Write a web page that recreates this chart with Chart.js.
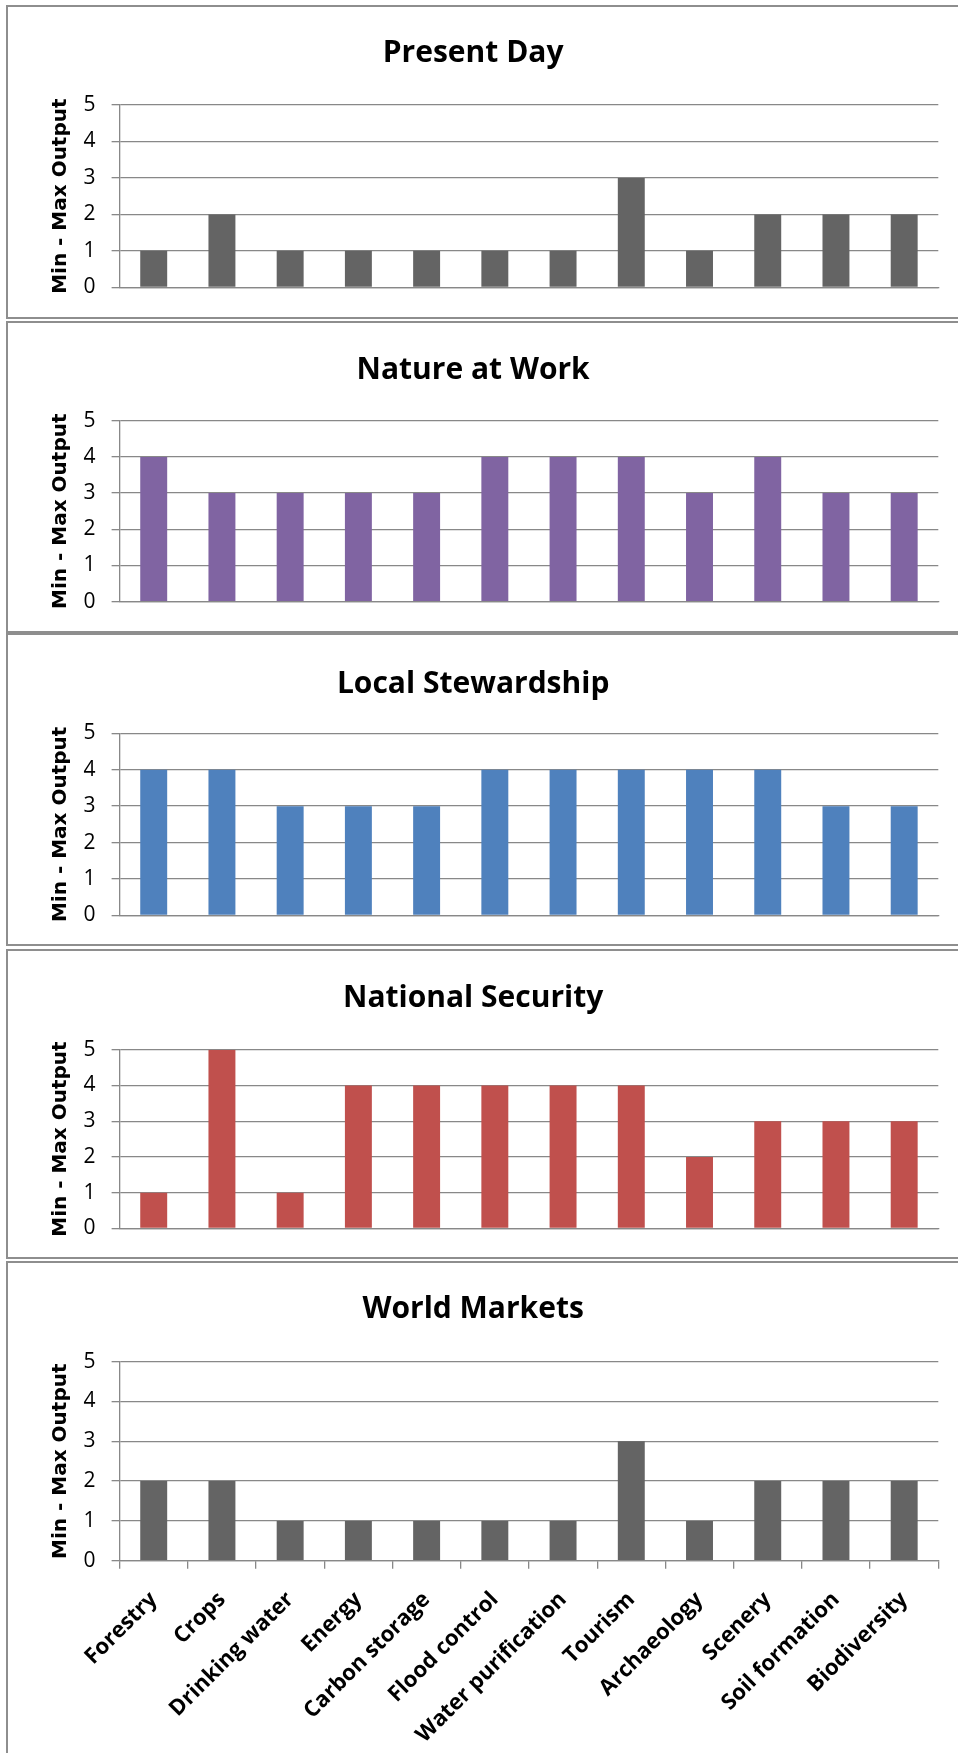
<!DOCTYPE html>
<html>
<head>
<meta charset="utf-8">
<title>Min - Max Output by scenario</title>
<script src="https://cdn.jsdelivr.net/npm/chart.js@4.4.1/dist/chart.umd.min.js"></script>
<style>
  html, body { margin: 0; padding: 0; background: #fff; }
  body { width: 958px; height: 1753px; overflow: hidden; position: relative; }
  .panel { position: absolute; left: 6px; width: 990px; border: 2px solid #8e8e8e; box-sizing: border-box; background: #fff; overflow: hidden; }
  .panel canvas { position: absolute; left: 0; top: 0; }
</style>
</head>
<body>
<div class="panel" style="top:5px;height:314px"><canvas id="presentDayChart"></canvas></div>
<div class="panel" style="top:321px;height:312px"><canvas id="natureChart"></canvas></div>
<div class="panel" style="top:633px;height:313px"><canvas id="localChart"></canvas></div>
<div class="panel" style="top:949px;height:310px"><canvas id="securityChart"></canvas></div>
<div class="panel" style="top:1261px;height:520px"><canvas id="marketsChart"></canvas></div>

<script>
// ecosystem services on the x axis
const services = ['Forestry', 'Crops', 'Drinking water', 'Energy', 'Carbon storage', 'Flood control',
  'Water purification', 'Tourism', 'Archaeology', 'Scenery', 'Soil formation', 'Biodiversity'];

// output score per service, one list per scenario
const presentDay = [1, 2, 1, 1, 1, 1, 1, 3, 1, 2, 2, 2];
const natureAtWork = [4, 3, 3, 3, 3, 4, 4, 4, 3, 4, 3, 3];
const localStewardship = [4, 4, 3, 3, 3, 4, 4, 4, 4, 4, 3, 3];
const nationalSecurity = [1, 5, 1, 4, 4, 4, 4, 4, 2, 3, 3, 3];
const worldMarkets = [2, 2, 1, 1, 1, 1, 1, 3, 1, 2, 2, 2];

const yTicks = [0, 1, 2, 3, 4, 5];
const yTitle = 'Min - Max Output';

const GRID = '#888888';
const CANVAS_W = 960;      // a bit wider than the page, the panel clips it
const PLOT_LEFT = 111.6;   // right edge of the y axis box
const PLOT_RIGHT = 930.3;

const TITLE_FONT = { family: '"Open Sans", sans-serif', size: 30, weight: 'bold', lineHeight: 1.2 };
const TICK_FONT = { family: '"Open Sans", sans-serif', size: 21, lineHeight: 1.2 };
const AXIS_TITLE_FONT = { family: '"DejaVu Sans", sans-serif', size: 20, weight: 'bold', lineHeight: 1.2 };
const LABEL_FONT = { family: '"Open Sans", sans-serif', size: 22, weight: 'bold', lineHeight: 1.2 };

function drawPanel(id, title, values, color, box) {
  const canvas = document.getElementById(id);
  canvas.width = CANVAS_W;
  canvas.height = box.height;
  const titleLine = TITLE_FONT.size * TITLE_FONT.lineHeight;
  const titleTop = box.titleMid - titleLine / 2;

  new Chart(canvas, {
    type: 'bar',
    data: {
      labels: services,
      datasets: [{
        data: values,
        backgroundColor: color,
        borderWidth: 0,
        barPercentage: 0.395,
        categoryPercentage: 1
      }]
    },
    options: {
      responsive: false,
      animation: false,
      events: [],
      layout: { padding: { left: 0, right: CANVAS_W - PLOT_RIGHT, top: 0, bottom: 0 } },
      plugins: {
        legend: { display: false },
        tooltip: { enabled: false },
        title: {
          display: true,
          text: title,
          color: '#000',
          font: TITLE_FONT,
          padding: { top: titleTop, bottom: box.plotTop - titleTop - titleLine }
        }
      },
      scales: {
        x: {
          grid: {
            display: box.showLabels,
            drawOnChartArea: false,
            color: GRID,
            lineWidth: 1.3,
            tickLength: 8
          },
          border: { display: true, color: GRID, width: 1.3 },
          ticks: {
            display: box.showLabels,
            autoSkip: false,
            minRotation: 45,
            maxRotation: 45,
            padding: 18,
            color: '#000',
            font: LABEL_FONT
          },
          afterFit(scale) { scale.height = box.height - box.plotBottom; }
        },
        y: {
          min: 0,
          max: 5,
          afterBuildTicks(scale) { scale.ticks = yTicks.map(v => ({ value: v })); },
          grid: { color: GRID, lineWidth: 1.3, tickLength: 8 },
          border: { display: true, color: GRID, width: 1.3 },
          ticks: { padding: 16, color: '#000', font: TICK_FONT },
          title: {
            display: true,
            text: yTitle,
            color: '#000',
            font: AXIS_TITLE_FONT,
            padding: { top: 41, bottom: 0 }
          },
          afterFit(scale) { scale.width = PLOT_LEFT; }
        }
      }
    }
  });
}

// layout in canvas pixels: title middle, top and bottom of the plot area
function drawAll() {
  drawPanel('presentDayChart', 'Present Day', presentDay, '#646464',
    { height: 310, titleMid: 46, plotTop: 98, plotBottom: 280.3, showLabels: false });
  drawPanel('natureChart', 'Nature at Work', natureAtWork, '#8064A2',
    { height: 308, titleMid: 47.5, plotTop: 97.7, plotBottom: 278.7, showLabels: false });
  drawPanel('localChart', 'Local Stewardship', localStewardship, '#4F81BD',
    { height: 309, titleMid: 49, plotTop: 98.3, plotBottom: 280.7, showLabels: false });
  drawPanel('securityChart', 'National Security', nationalSecurity, '#C0504D',
    { height: 306, titleMid: 47, plotTop: 98.7, plotBottom: 279.3, showLabels: false });
  drawPanel('marketsChart', 'World Markets', worldMarkets, '#646464',
    { height: 516, titleMid: 46.5, plotTop: 98.7, plotBottom: 297.7, showLabels: true });
}

Promise.all([
  document.fonts.load('bold 30px "Open Sans"'),
  document.fonts.load('21px "Open Sans"'),
  document.fonts.load('bold 20px "DejaVu Sans"')
]).then(drawAll, drawAll);
</script>
</body>
</html>
